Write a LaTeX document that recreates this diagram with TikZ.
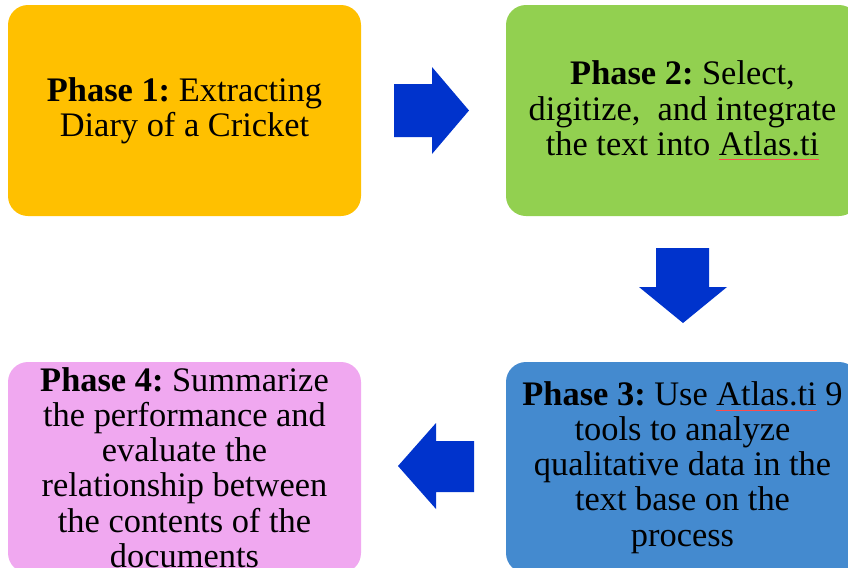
\documentclass[tikz,border=0pt]{standalone}
\usepackage{fontspec}
\setmainfont{Liberation Serif}
\usetikzlibrary{positioning}
\frenchspacing

\definecolor{phaseorange}{HTML}{FFC000}
\definecolor{phasegreen}{HTML}{92D050}
\definecolor{phaseblue}{HTML}{448ACF}
\definecolor{phasepink}{HTML}{F0A8F0}
\definecolor{arrowblue}{HTML}{0033CC}

% red spell-check line under a word
\newcommand{\spellmark}[1]{\setbox0\hbox{#1}\rlap{\textcolor{red!70}{\rule[-0.14em]{\wd0}{0.3pt}}}\box0\relax}

\begin{document}
\begin{tikzpicture}[x=0.5pt,y=-0.5pt,
  phase/.style={draw=none,rounded corners=10pt,align=center,
    minimum width=176.5pt,minimum height=105.5pt,inner sep=0pt,
    font=\fontsize{17.2}{17.6}\selectfont},
  blockarrow/.style={fill=arrowblue,draw=none}]

\useasboundingbox (0,0) rectangle (848,568);
\clip (0,0) rectangle (848,568);

\node[phase,fill=phaseorange] (phaseone) at (184.5,110.5)
  {\textbf{Phase 1:} Extracting\\Diary of a Cricket};
\node[phase,fill=phasegreen] (phasetwo) at (682.5,110.5)
  {\textbf{Phase 2:} Select,\\digitize,\ \ and integrate\\the text into \spellmark{Atlas.ti}};
\node[phase,fill=phaseblue] (phasethree) at (682.5,467.5)
  {\textbf{Phase 3:} Use \spellmark{Atlas.ti} 9\\tools to analyze\\qualitative data in the\\text base on the\\process};
\node[phase,fill=phasepink] (phasefour) at (184.5,467.5)
  {\textbf{Phase 4:} Summarize\\the performance and\\evaluate the\\relationship between\\the contents of the\\documents};

% block arrows between the phases
\fill[blockarrow] (394,84) -- (432,84) -- (432,67) -- (469,110.5)
  -- (432,154) -- (432,137) -- (394,137) -- cycle;
\fill[blockarrow] (656,248) -- (709,248) -- (709,287) -- (727,287)
  -- (683,323) -- (639,287) -- (656,287) -- cycle;
\fill[blockarrow] (474,441) -- (436,441) -- (436,423) -- (398,466)
  -- (436,509) -- (436,492) -- (474,492) -- cycle;
\end{tikzpicture}
\end{document}
